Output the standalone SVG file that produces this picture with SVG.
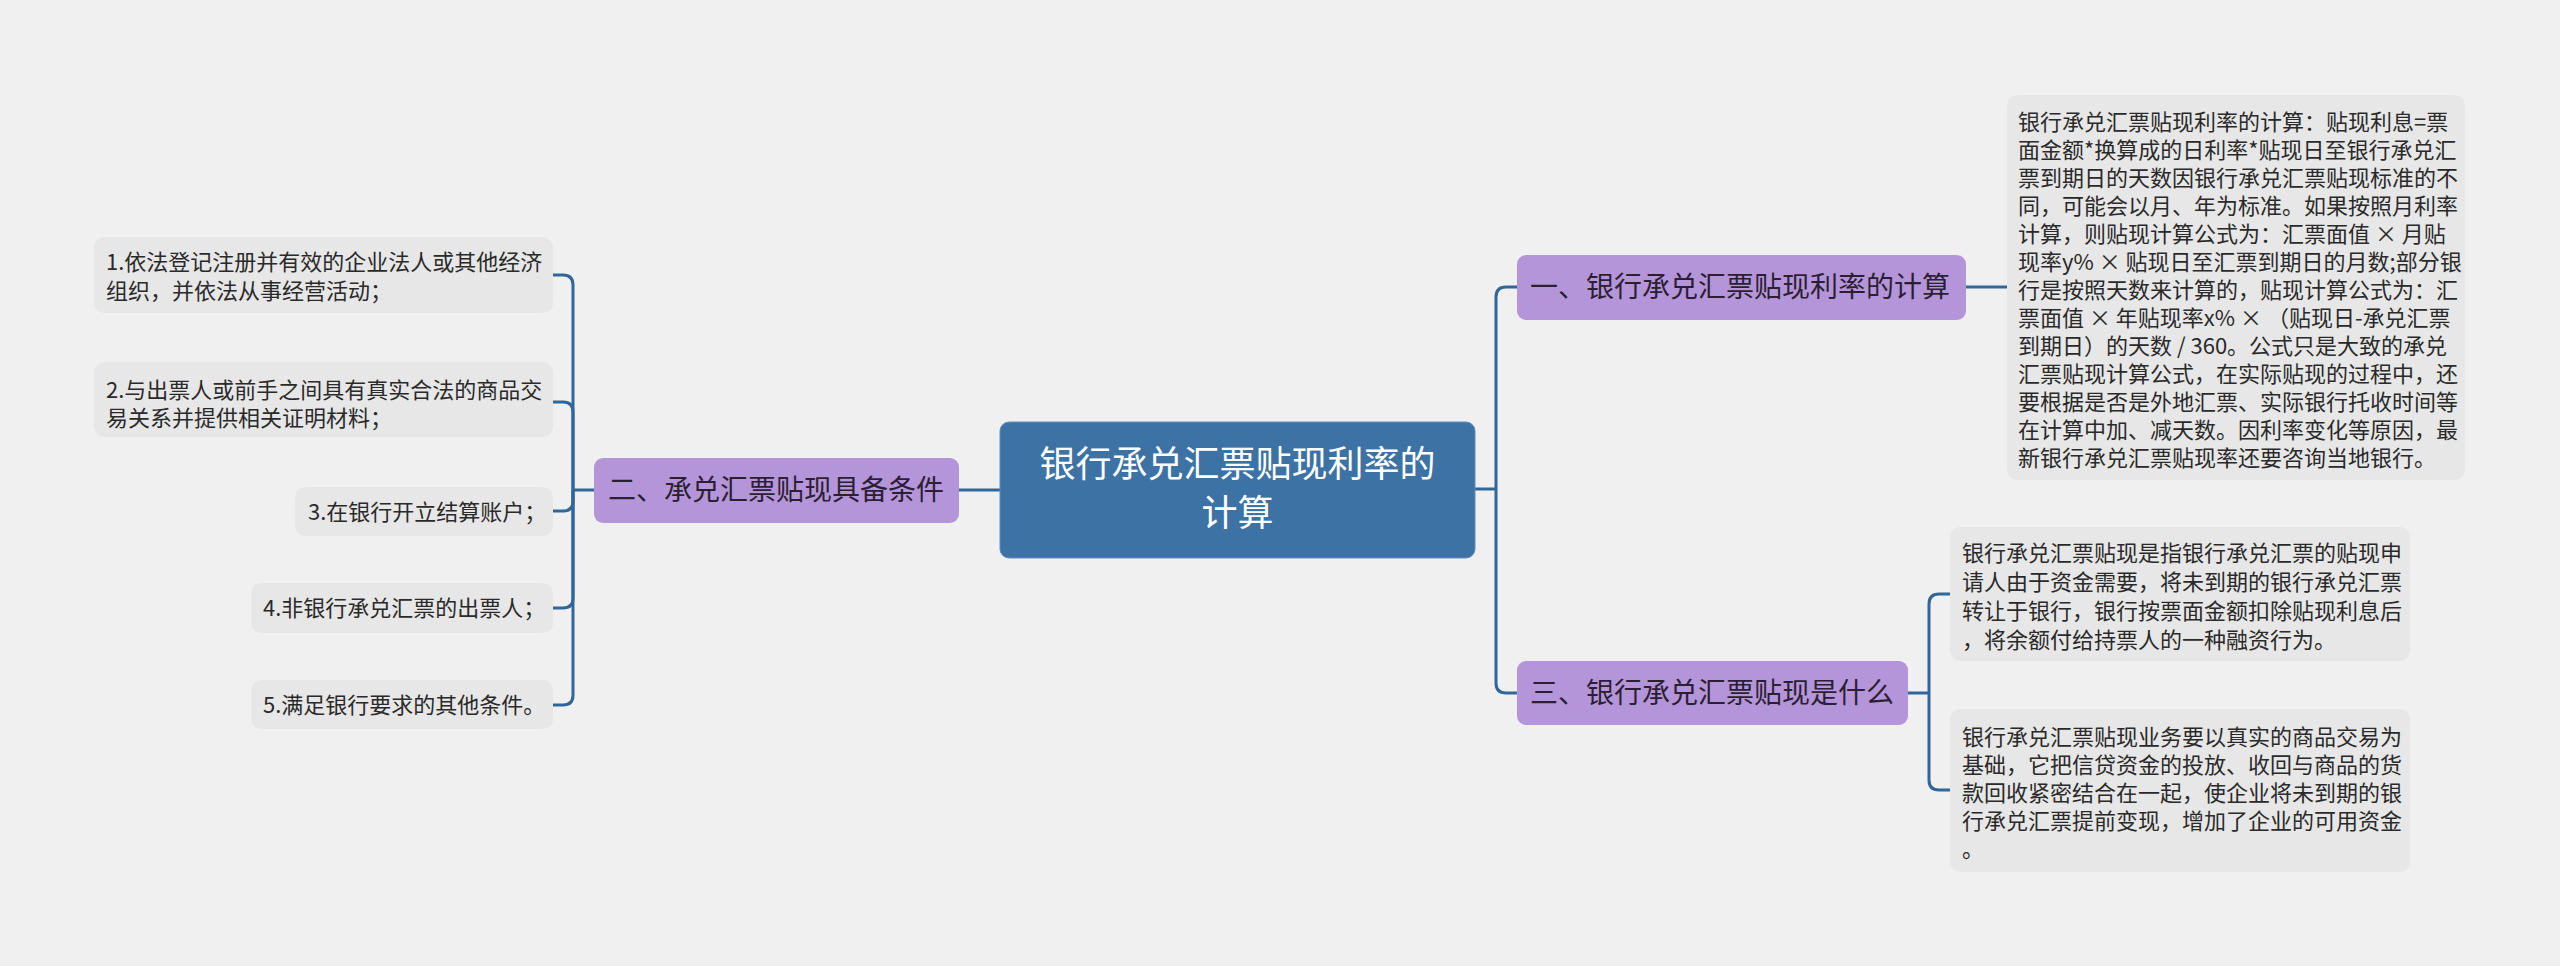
<svg xmlns="http://www.w3.org/2000/svg" width="2560" height="966" viewBox="0 0 2560 966">
<style>
text{font-family:"Noto Sans CJK SC","Noto Sans",sans-serif;}
.conn{fill:none;stroke:#316699;stroke-width:3;}
.root rect{fill:#3d72a5;stroke:#5e8fc0;stroke-width:1;}
.root text{fill:#ffffff;font-size:36px;text-anchor:middle;}
.branch rect{fill:#b595d9;}
.branch text{fill:#2b1f33;font-size:28px;}
.leaf rect{fill:#e7e7e7;}
.leaf text{fill:#2a2a2a;font-size:22px;}
</style>
<rect width="2560" height="966" fill="#f0f0f0"/>
<g id="connectors">
<path class="conn" d="M1475,489 H1496"/>
<path class="conn" d="M1496,489 V297 Q1496,287 1506,287 H1517"/>
<path class="conn" d="M1496,489 V683 Q1496,693 1506,693 H1517"/>
<path class="conn" d="M1966,287 H2007"/>
<path class="conn" d="M1908,693 H1929"/>
<path class="conn" d="M1929,693 V604 Q1929,594 1939,594 H1950"/>
<path class="conn" d="M1929,693 V780 Q1929,790 1939,790 H1950"/>
<path class="conn" d="M1001,490 H959"/>
<path class="conn" d="M594,490 H573"/>
<path class="conn" d="M573,490 V285 Q573,275 563,275 H553"/>
<path class="conn" d="M573,490 V412 Q573,402 563,402 H553"/>
<path class="conn" d="M573,490 V501 Q573,511 563,511 H553"/>
<path class="conn" d="M573,490 V598 Q573,608 563,608 H553"/>
<path class="conn" d="M573,490 V695 Q573,705 563,705 H553"/>
</g>
<g id="root" class="root">
<rect x="1000" y="422" width="475" height="136" rx="9"/>
<text x="1237.5" y="477">银行承兑汇票贴现利率的</text>
<text x="1237.5" y="526">计算</text>
</g>
<g id="b1" class="branch">
<rect x="1517" y="255" width="449" height="65" rx="9"/>
<text x="1530" y="297">一、银行承兑汇票贴现利率的计算</text>
</g>
<g id="b2" class="branch">
<rect x="594" y="458" width="365" height="65" rx="9"/>
<text x="608" y="500">二、承兑汇票贴现具备条件</text>
</g>
<g id="b3" class="branch">
<rect x="1517" y="661" width="391" height="64" rx="9"/>
<text x="1530" y="703">三、银行承兑汇票贴现是什么</text>
</g>
<g id="t1" class="leaf">
<rect x="2007" y="95" width="458" height="385" rx="10"/>
<text x="2018" y="130">银行承兑汇票贴现利率的计算：贴现利息=票</text>
<text x="2018" y="158">面金额*换算成的日利率*贴现日至银行承兑汇</text>
<text x="2018" y="186">票到期日的天数因银行承兑汇票贴现标准的不</text>
<text x="2018" y="214">同，可能会以月、年为标准。如果按照月利率</text>
<text x="2018" y="242">计算，则贴现计算公式为：汇票面值 × 月贴</text>
<text x="2018" y="270">现率y% × 贴现日至汇票到期日的月数;部分银</text>
<text x="2018" y="298">行是按照天数来计算的，贴现计算公式为：汇</text>
<text x="2018" y="326">票面值 × 年贴现率x% × （贴现日-承兑汇票</text>
<text x="2018" y="354">到期日）的天数 / 360。公式只是大致的承兑</text>
<text x="2018" y="382">汇票贴现计算公式，在实际贴现的过程中，还</text>
<text x="2018" y="410">要根据是否是外地汇票、实际银行托收时间等</text>
<text x="2018" y="438">在计算中加、减天数。因利率变化等原因，最</text>
<text x="2018" y="466">新银行承兑汇票贴现率还要咨询当地银行。</text>
</g>
<g id="t3a" class="leaf">
<rect x="1950" y="527" width="460" height="134" rx="10"/>
<text x="1962" y="561">银行承兑汇票贴现是指银行承兑汇票的贴现申</text>
<text x="1962" y="590">请人由于资金需要，将未到期的银行承兑汇票</text>
<text x="1962" y="619">转让于银行，银行按票面金额扣除贴现利息后</text>
<text x="1962" y="648">，将余额付给持票人的一种融资行为。</text>
</g>
<g id="t3b" class="leaf">
<rect x="1950" y="709" width="460" height="163" rx="10"/>
<text x="1962" y="745">银行承兑汇票贴现业务要以真实的商品交易为</text>
<text x="1962" y="773">基础，它把信贷资金的投放、收回与商品的货</text>
<text x="1962" y="801">款回收紧密结合在一起，使企业将未到期的银</text>
<text x="1962" y="829">行承兑汇票提前变现，增加了企业的可用资金</text>
<text x="1962" y="857">。</text>
</g>
<g id="l1" class="leaf">
<rect x="94" y="237" width="459" height="76" rx="10"/>
<text x="106" y="270">1.依法登记注册并有效的企业法人或其他经济</text>
<text x="106" y="299">组织，并依法从事经营活动；</text>
</g>
<g id="l2" class="leaf">
<rect x="94" y="362" width="459" height="75" rx="10"/>
<text x="106" y="398">2.与出票人或前手之间具有真实合法的商品交</text>
<text x="106" y="426">易关系并提供相关证明材料；</text>
</g>
<g id="l3" class="leaf">
<rect x="295" y="487" width="258" height="49" rx="10"/>
<text x="308" y="520">3.在银行开立结算账户；</text>
</g>
<g id="l4" class="leaf">
<rect x="251" y="583" width="302" height="50" rx="10"/>
<text x="263" y="616">4.非银行承兑汇票的出票人；</text>
</g>
<g id="l5" class="leaf">
<rect x="251" y="680" width="302" height="49" rx="10"/>
<text x="263" y="713">5.满足银行要求的其他条件。</text>
</g>
</svg>
